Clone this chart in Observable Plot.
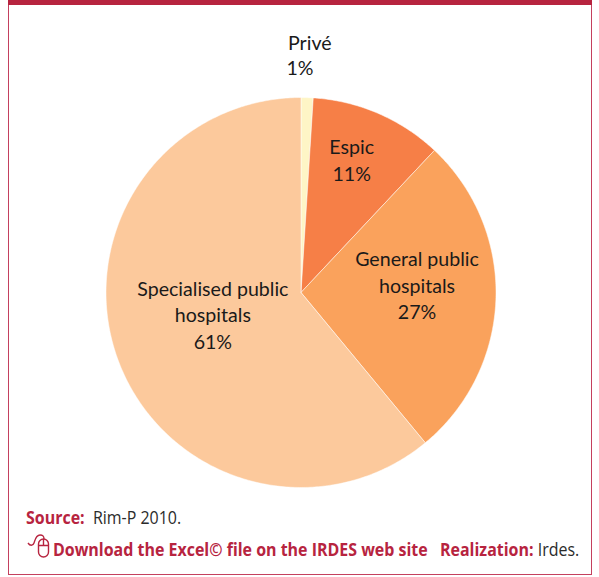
<!DOCTYPE html>
<html lang="en">
<head>
<meta charset="utf-8">
<script src="https://cdn.jsdelivr.net/npm/d3@7"></script>
<script src="https://cdn.jsdelivr.net/npm/@observablehq/plot@0.6"></script>
<style>
  html, body { margin: 0; padding: 0; background: #fff; }
  #page { position: relative; width: 599px; height: 577px; overflow: hidden; }
  #topbar { position: absolute; left: 8px; top: 0; width: 584px; height: 5px; background: #b7243f; }
  #frame { position: absolute; left: 8px; top: 0; width: 582px; height: 574px; border: 1px solid #c4405e; border-width: 0 1px 1.5px 1.5px; box-sizing: content-box; }
  #chart { position: absolute; left: 0; top: 0; }
  #chart svg { display: block; background: transparent; }
  .note { position: absolute; white-space: nowrap; transform-origin: 0 50%; transform: scaleX(.887); font-family: "Open Sans", sans-serif; font-size: 18px; line-height: 20px; color: #2b2b2b; }
  .note b { color: #b7243f; font-weight: 700; }
  #mouse { position: absolute; left: 27px; top: 533px; }
</style>
</head>
<body>
<div id="page">
  <div id="frame"></div>
  <div id="topbar"></div>
  <div id="chart"></div>
  <div class="note" style="left:26px; top:507px"><b>Source:</b>&nbsp; Rim-P 2010.</div>
  <svg id="mouse" width="24" height="27" viewBox="0 0 24 27" fill="none" stroke="#b7243f" stroke-width="1.4">
    <rect x="11.5" y="6" width="10" height="18" rx="5"></rect>
    <path d="M11.5 12.5h10M16.5 6v6.5M1 10c2 3 5 3 6 0s2-8 6-8 4 2 4 4"></path>
  </svg>
  <div class="note" style="left:53px; top:539px"><b>Download the Excel© file on the IRDES web site</b></div>
  <div class="note" style="left:440px; top:539px"><b>Realization:</b> Irdes.</div>
</div>
<script>
// Hospital sectors and their share of the total, clockwise from twelve o'clock
const sectors = ["Privé", "Espic", "General public hospitals", "Specialised public hospitals"];
const shares = [1, 11, 27, 61];
const sectorColors = ["#fef5c6", "#f67f47", "#faa25c", "#fcc99c"];

// Label text, one entry per line, and where each block sits in unit-circle space
const labelLines = [["Privé"], ["Espic"], ["General public", "hospitals"], ["Specialised public", "hospitals"]];
const labelX = [-0.005, 0.26, 0.595, -0.452];
const labelY = [1.275, 0.684, 0.043, -0.11];
const priveOffsets = [0.05, 0];

// Sweep each share into a closed wedge outline on the unit circle
const total = d3.sum(shares);
let running = 0;
const wedges = sectors.flatMap((sector, i) => {
  const start = running / total * 2 * Math.PI;
  running += shares[i];
  const end = running / total * 2 * Math.PI;
  const steps = Math.max(4, Math.ceil((end - start) * 90));
  const rim = d3.range(steps + 1).map((k) => {
    const a = start + (end - start) * k / steps;
    return {sector, x: Math.sin(a), y: Math.cos(a)};
  });
  return [{sector, x: 0, y: 0}, ...rim, {sector, x: 0, y: 0}];
});

// The Privé label sits outside the pie with its two lines set off from each other
const labels = sectors.slice(1).map((sector, i) => ({
  text: [...labelLines[i + 1], `${shares[i + 1]}%`].join("\n"),
  x: labelX[i + 1],
  y: labelY[i + 1]
}));
const outerLabels = [
  {text: labelLines[0][0], x: labelX[0] + priveOffsets[0], y: labelY[0]},
  {text: `${shares[0]}%`, x: labelX[0] + priveOffsets[1], y: labelY[0] - 0.128}
];

const chart = Plot.plot({
  width: 599,
  height: 500,
  margin: 0,
  x: {domain: [-1, 1], range: [105.5, 495.5], axis: null},
  y: {domain: [-1, 1], range: [487, 97], axis: null},
  color: {domain: sectors, range: sectorColors},
  style: {fontFamily: "Lato, sans-serif"},
  marks: [
    Plot.line(wedges, {x: "x", y: "y", z: "sector", fill: "sector", stroke: "#fff", strokeWidth: 0.5, curve: "linear"}),
    Plot.text(labels, {x: "x", y: "y", text: "text", fontSize: 19.6, lineHeight: 1.35, fill: "#1a1a1a"}),
    Plot.text(outerLabels, {x: "x", y: "y", text: "text", fontSize: 19.6, fill: "#1a1a1a"})
  ]
});
document.getElementById("chart").append(chart);
</script>
</body>
</html>
